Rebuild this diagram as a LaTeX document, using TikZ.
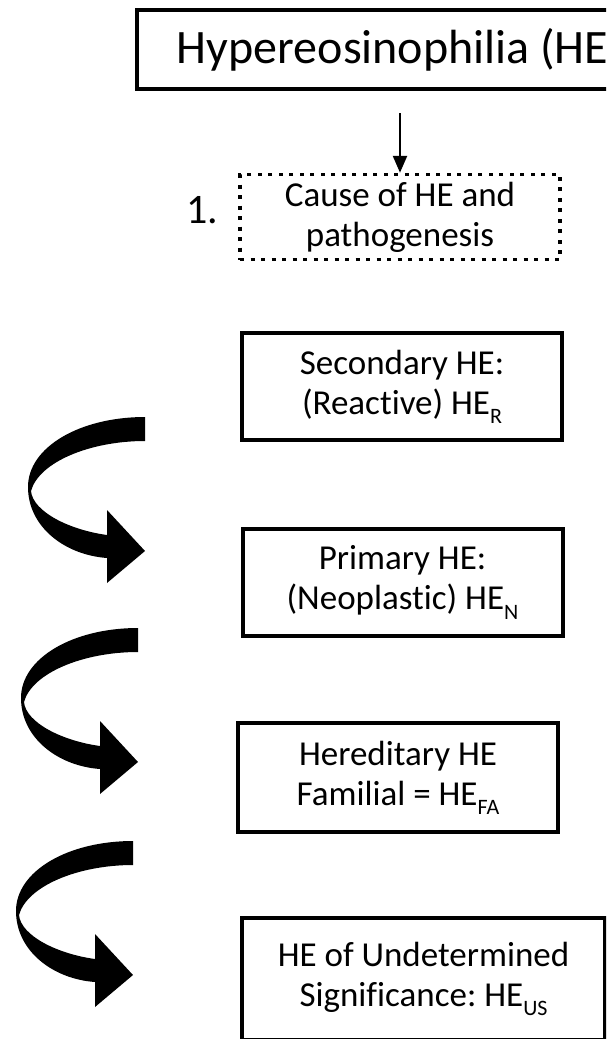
\documentclass[tikz,border=0pt]{standalone}
\usepackage{fontspec}
\setmainfont{Carlito}[Ligatures=NoCommon]
\usetikzlibrary{arrows.meta}
\frenchspacing
\newcommand{\sbs}[1]{\raisebox{-0.26em}{\fontsize{22}{22}\selectfont #1}}
\tikzset{
  hebox/.style={draw, line width=4pt, rectangle, align=center, inner sep=0pt,
    minimum width=320pt, font=\fontsize{35}{40}\selectfont},
  dotbox/.style={hebox, line width=3.5pt, dash pattern=on 4pt off 6.5pt},
  curvarrow/.pic={
    \fill (0,0) .. controls (-65,0) and (-117,30) .. (-117,70)
      .. controls (-117,110) and (-80,138) .. (-38,141)
      -- (-38,166) -- (0,134) -- (-38,93) -- (-38,118)
      .. controls (-75,113) and (-112,95) .. (-114,74)
      .. controls (-106,45) and (-55,24) .. (0,24) -- cycle;
  }
}
\begin{document}
\begin{tikzpicture}[x=1pt,y=-1pt]
\useasboundingbox (0,0) rectangle (606,1039);
\clip (0,0) rectangle (606,1039);

% title and first step
\node[hebox, minimum width=526pt, minimum height=79pt,
      font=\fontsize{48}{54}\selectfont] (title) at (400,49.5) {Hypereosinophilia (HE)};
\node[dotbox, minimum height=85pt] (cause) at (400,217) {Cause of HE and\\pathogenesis};
\node[font=\fontsize{42}{46}\selectfont, anchor=east] (num) at (222,210) {1.};
\draw[line width=2.5pt, -{Triangle[width=14pt,length=17pt]}, shorten <=22pt]
  (title.south) -- (cause.north);

% categories
\node[hebox, minimum height=107pt] (sec) at (402,386.5) {Secondary HE:\\(Reactive) HE\sbs{R}};
\node[hebox, minimum height=107pt] (prim) at (402.5,582.5) {Primary HE:\\(Neoplastic) HE\sbs{N}};
\node[hebox, minimum height=109pt] (here) at (398,777.5) {Hereditary HE\\Familial = HE\sbs{FA}};
\node[hebox, minimum width=363pt, minimum height=122pt] (und) at (423.5,979)
  {HE of Undetermined\\Significance: HE\sbs{US}};

% curved arrows between categories
\pic at (145,417) {curvarrow};
\pic at (138,628) {curvarrow};
\pic at (133,841) {curvarrow};
\end{tikzpicture}
\end{document}
